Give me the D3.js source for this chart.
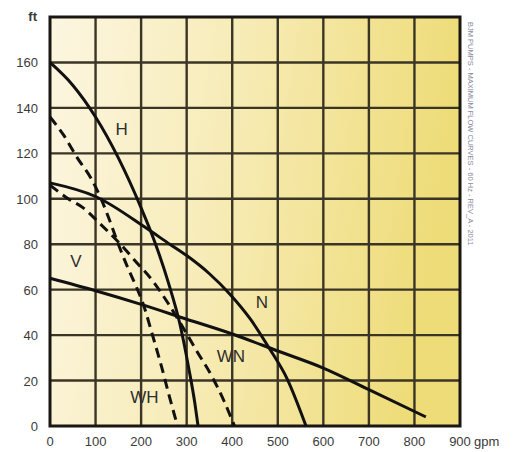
<!DOCTYPE html>
<html><head><meta charset="utf-8">
<script src="https://cdn.jsdelivr.net/npm/d3@7"></script>
<style>body{margin:0;background:#fff}svg{display:block}</style>
</head><body>
<svg id="c" width="529" height="452"></svg>
<script>
const xTicks = [0,100,200,300,400,500,600,700,800,900];
const yTicks = [0,20,40,60,80,100,120,140,160];
const curveH  = [[0,160],[50,150],[100,136],[150,118],[200,96],[230,81],[260,63],[285,45],[305,25],[318,10],[325,0]];
const curveN  = [[0,107],[100,101],[212,87],[263,80],[300,75],[350,67],[395,58],[440,47],[482,34],[520,21],[562,0]];
const curveV  = [[0,65],[100,59.5],[200,53.5],[300,47],[400,40.5],[500,33],[600,25.5],[700,16],[825,4]];
const curveWH = [[0,136],[30,128],[60,118],[90,109],[110,101],[130,91],[150,80],[170,70],[190,61],[204,54],[225,40],[245,26],[262,13],[280,0]];
const curveWN = [[0,106],[40,100],[73,96],[110,89],[150,81],[190,72],[225,64],[256,55],[290,44],[322,33],[355,22],[382,11],[405,0]];
const labels = [["H",157,130],["V",57,72],["N",465,54],["WN",397,30],["WH",207,12]];

const svg = d3.select("#c");
const x = d3.scaleLinear().domain([0,900]).range([50,460]);
const y = d3.scaleLinear().domain([0,180]).range([426,17]);

const defs = svg.append("defs");
const g = defs.append("linearGradient").attr("id","bg").attr("x1","0").attr("x2","1").attr("y1","0").attr("y2","0.15");
g.append("stop").attr("offset","0").attr("stop-color","#fcf6e1");
g.append("stop").attr("offset","0.45").attr("stop-color","#f7ecb8");
g.append("stop").attr("offset","1").attr("stop-color","#eedc78");

svg.append("rect").attr("x",x(0)).attr("y",y(180)).attr("width",x(900)-x(0)).attr("height",y(0)-y(180)).attr("fill","url(#bg)");

const grid = svg.append("g").attr("stroke","#3b3526").attr("stroke-width",2.4);
grid.selectAll("line.v").data(xTicks.slice(1,-1)).join("line")
  .attr("x1",d=>x(d)).attr("x2",d=>x(d)).attr("y1",y(180)).attr("y2",y(0));
grid.selectAll("line.h").data(yTicks.slice(1)).join("line")
  .attr("x1",x(0)).attr("x2",x(900)).attr("y1",d=>y(d)).attr("y2",d=>y(d));

svg.append("rect").attr("x",x(0)).attr("y",y(180)).attr("width",x(900)-x(0)).attr("height",y(0)-y(180))
  .attr("fill","none").attr("stroke","#1a1712").attr("stroke-width",3);

const lineY = d3.line().x(d=>x(d[0])).y(d=>y(d[1])).curve(d3.curveMonotoneX);
const curves = svg.append("g").attr("fill","none").attr("stroke","#111").attr("stroke-width",3).attr("stroke-linecap","butt");
[curveH,curveN,curveV].forEach(c=>curves.append("path").attr("d",lineY(c)));
[curveWH,curveWN].forEach(c=>curves.append("path").attr("d",lineY(c)).attr("stroke-dasharray","10,6"));

const ax = svg.append("g").attr("font-family","'Liberation Sans', Arial, sans-serif").attr("font-size",13).attr("fill","#3a3a3a");
ax.selectAll("text.yt").data(yTicks).join("text").attr("class","yt")
  .attr("x",38).attr("y",d=>y(d)+5).attr("text-anchor","end").text(d=>d);
ax.append("text").attr("x",37).attr("y",21).attr("text-anchor","end").attr("font-weight","bold").text("ft");
ax.selectAll("text.xt").data(xTicks).join("text").attr("class","xt")
  .attr("x",d=>x(d)).attr("y",446).attr("text-anchor","middle").text(d=>d);
ax.append("text").attr("x",x(900)+14).attr("y",446).text("gpm");

svg.append("g").attr("font-family","'Liberation Sans', Arial, sans-serif").attr("font-size",17).attr("fill","#2e2e2e")
  .selectAll("text").data(labels).join("text")
  .attr("x",d=>x(d[1])).attr("y",d=>y(d[2])).attr("text-anchor","middle").attr("dominant-baseline","middle").text(d=>d[0]);

svg.append("text").attr("transform","translate(468,22) rotate(90)")
  .attr("font-family","'Liberation Sans', Arial, sans-serif").attr("font-size",7.5).attr("fill","#8a8a9a")
  .text("BJM PUMPS - MAXIMUM FLOW CURVES - 60 Hz - REV_A - 2011");
</script>
</body></html>
